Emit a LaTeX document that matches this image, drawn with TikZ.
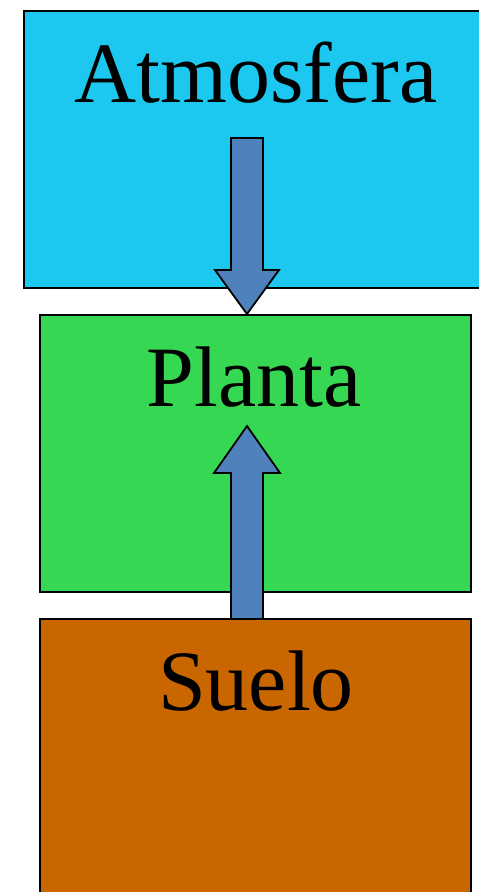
\documentclass[tikz,border=0pt]{standalone}
\usepackage{fontspec}
\setmainfont{Liberation Serif}
\definecolor{atm}{HTML}{1DC8F0}
\definecolor{pla}{HTML}{36D752}
\definecolor{sue}{HTML}{CA6600}
\definecolor{arr}{HTML}{4F81BD}
\begin{document}
\begin{tikzpicture}[x=1pt,y=-1pt,
  box/.style={draw=black,line width=2pt,inner sep=0pt,anchor=north west},
  lbl/.style={anchor=base,inner sep=0pt,font=\fontsize{86}{86}\selectfont},
  blockarrow/.style={draw=black,line width=1.8pt,fill=arr,line join=miter}]
\useasboundingbox (0,0) rectangle (479,892);
\clip (0,0) rectangle (479,892);
\node[box,fill=atm,minimum width=470pt,minimum height=277pt] (atm) at (23,10) {};
\node[box,fill=pla,minimum width=431pt,minimum height=277pt] (pla) at (39,314) {};
% upward arrow from Suelo to Planta
\coordinate (u0) at (247,618);
\draw[blockarrow] (u0) ++(-16,0) -- ++(0,-145) -- ++(-17,0) -- (247,426) -- (280,473) -- ++(-17,0) -- ++(0,145);
\node[box,fill=sue,minimum width=431pt,minimum height=300pt] (sue) at (39,618) {};
% downward arrow from Atmosfera to Planta
\draw[blockarrow] (231,138) -- (263,138) -- (263,270) -- (279,270) -- (pla.north -| 247,0) -- (215,270) -- (231,270) -- cycle;
\node[lbl] (tatm) at (256,102) {Atmosfera};
\node[lbl] (tpla) at (254,406) {Planta};
\node[lbl] (tsue) at (256,710) {Suelo};
\end{tikzpicture}
\end{document}
